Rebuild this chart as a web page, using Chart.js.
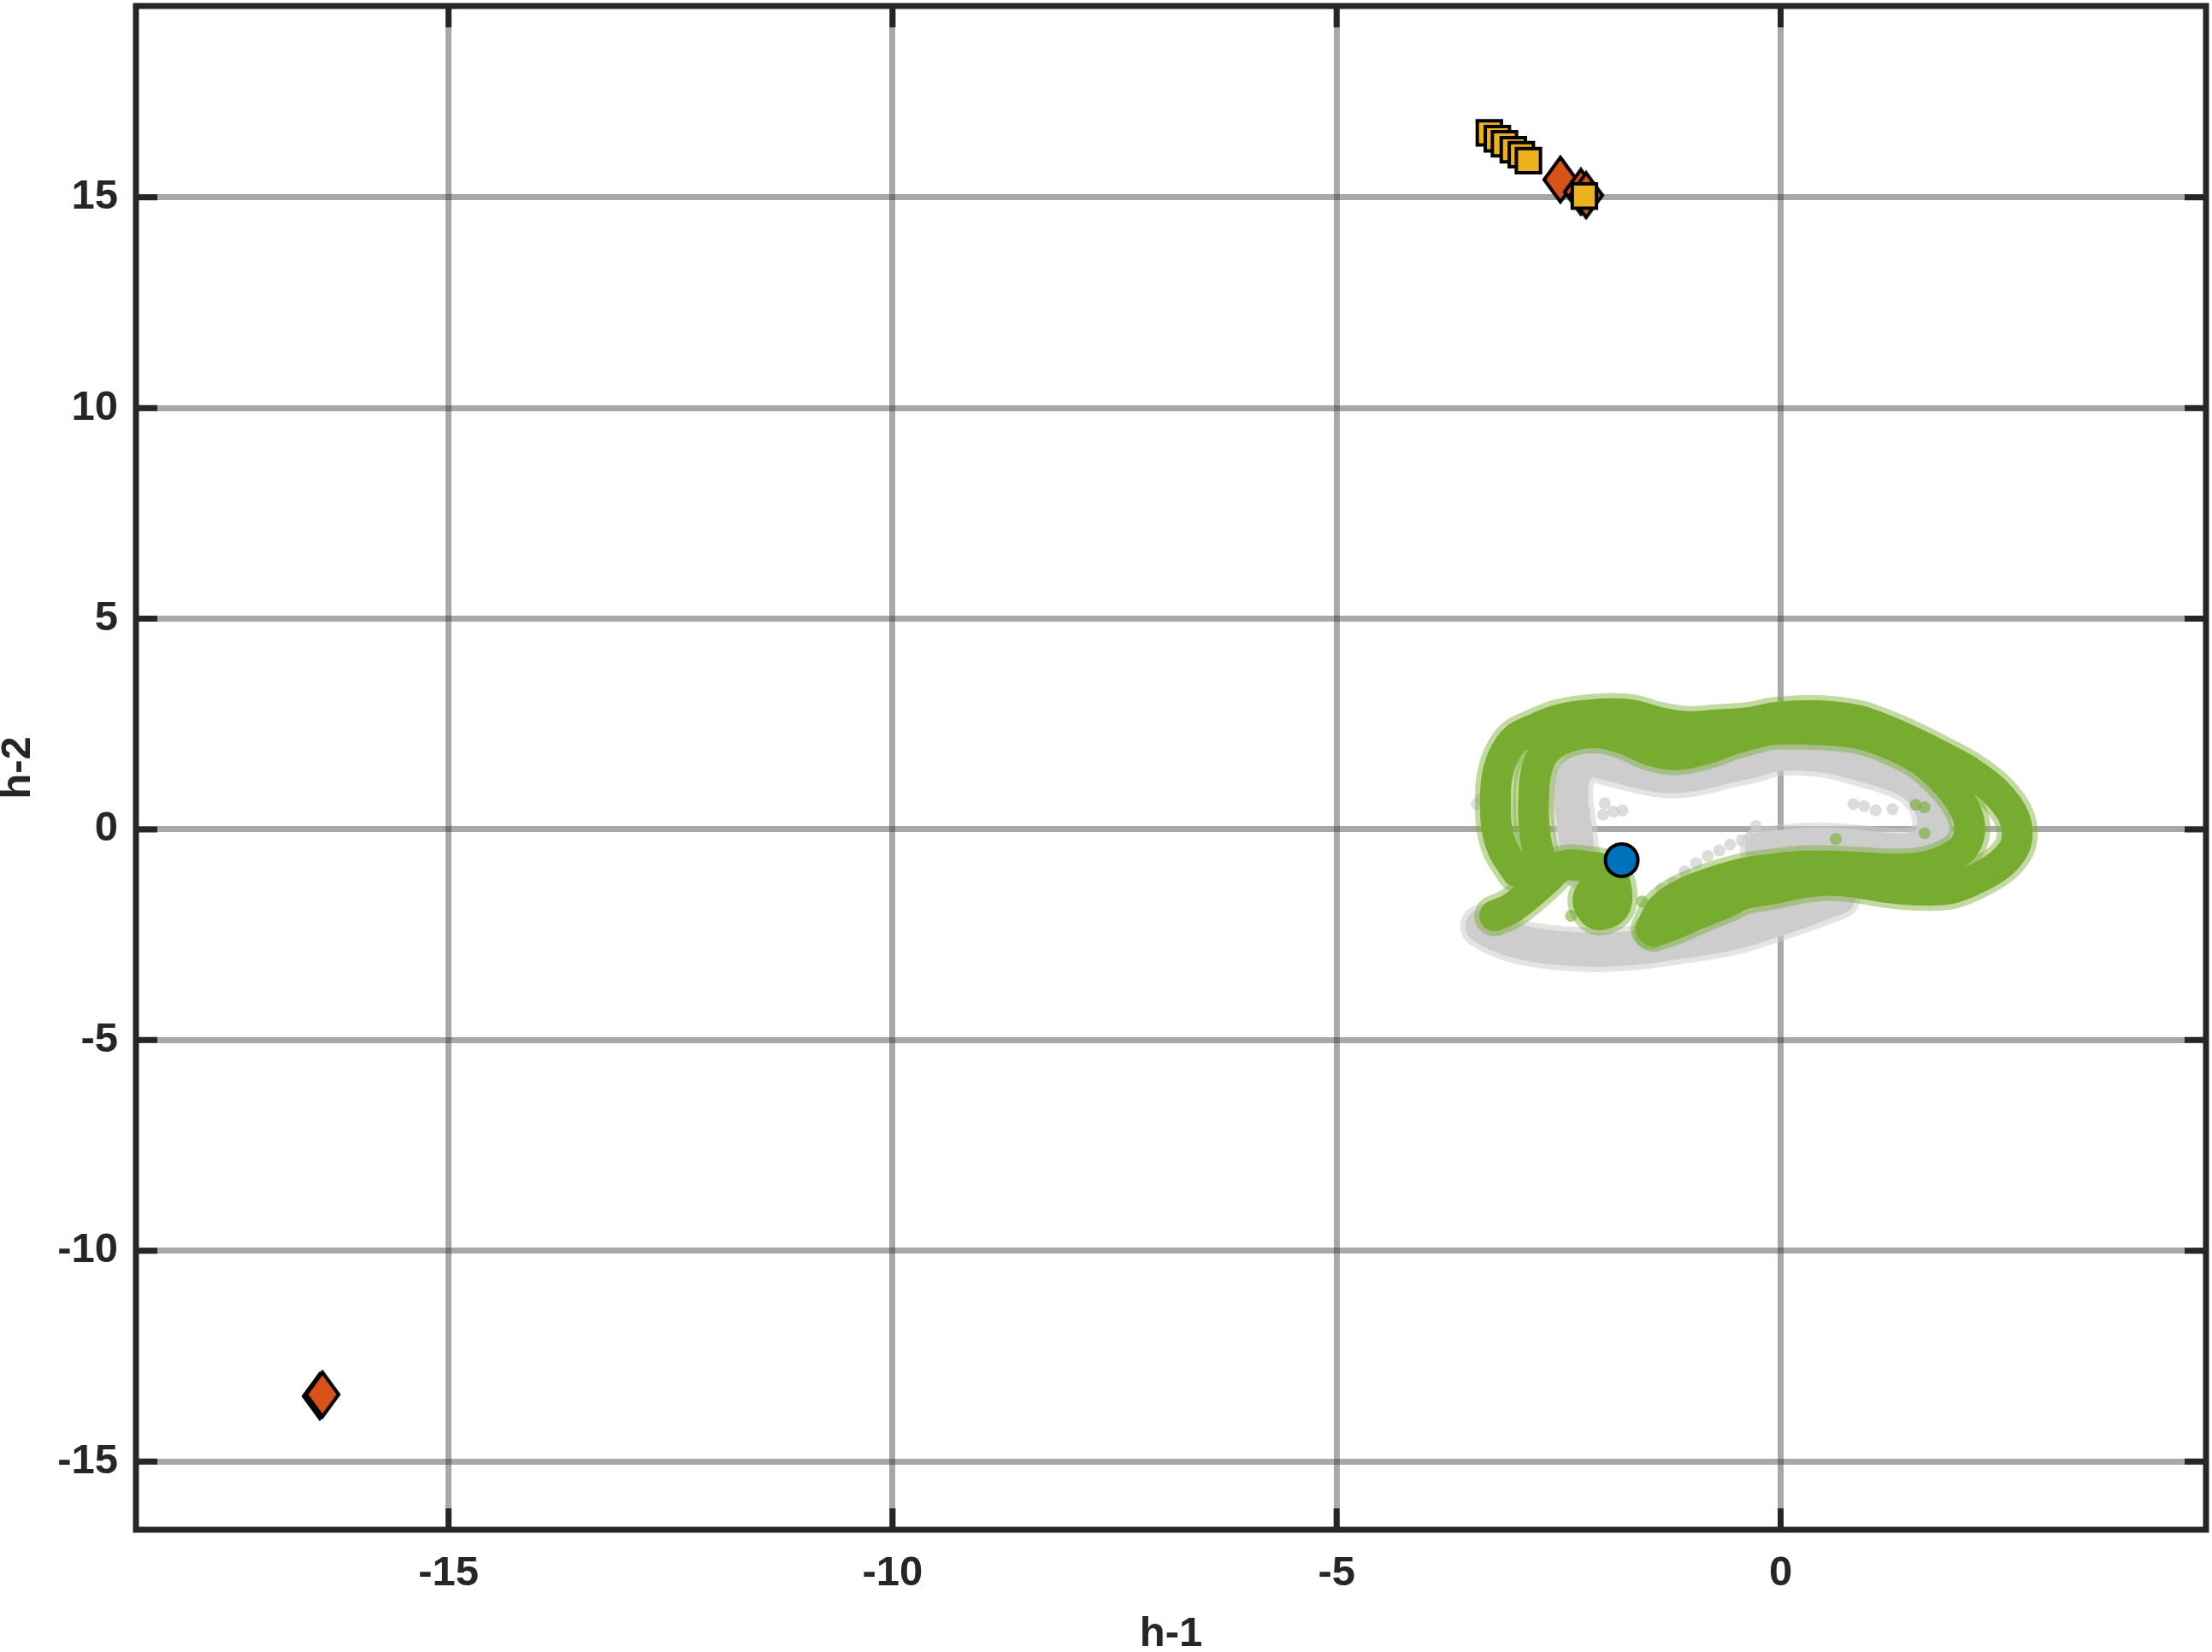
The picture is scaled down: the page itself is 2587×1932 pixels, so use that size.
<!DOCTYPE html>
<html>
<head>
<meta charset="utf-8">
<script src="https://cdn.jsdelivr.net/npm/chart.js@4.4.1/dist/chart.umd.min.js"></script>
<style>
html,body{margin:0;padding:0;background:#fff;}
canvas{display:block;}
</style>
</head>
<body>
<canvas id="grafico" width="2587" height="1932"></canvas>
<script>
/* DADOS */
const xTicks = [-15, -10, -5, 0];
const yTicks = [-15, -10, -5, 0, 5, 10, 15];
const xTitle = "h-1";
const yTitle = "h-2";

// nuvem verde (trajetória)
const greenOuter = [[-2.97,-1.00],[-3.13,-0.46],[-3.20,0.08],[-3.21,0.62],[-3.20,1.16],[-3.13,1.70],[-2.99,2.14],[-2.78,2.37],[-2.52,2.59],[-2.24,2.70],[-1.91,2.75],[-1.66,2.71],[-1.37,2.54],[-1.05,2.44],[-0.73,2.48],[-0.34,2.54],[-0.08,2.65],[0.24,2.70],[0.56,2.68],[0.88,2.58],[1.20,2.34],[1.52,2.04],[1.84,1.70],[2.13,1.36],[2.42,0.89],[2.63,0.28],[2.65,-0.33],[2.49,-0.80],[2.23,-1.14],[1.91,-1.41],[1.52,-1.44],[1.20,-1.38],[0.88,-1.27],[0.56,-1.21],[0.24,-1.27],[-0.08,-1.41],[-0.41,-1.54],[-0.63,-1.75],[-0.95,-2.02],[-1.24,-2.29],[-1.43,-2.42]];
const greenInner = [[-2.68,-0.87],[-2.75,-0.33],[-2.78,0.21],[-2.78,0.75],[-2.76,1.29],[-2.68,1.77],[-2.49,2.11],[-2.24,2.27],[-1.98,2.27],[-1.72,2.11],[-1.46,1.87],[-1.18,1.77],[-0.85,1.90],[-0.53,2.14],[-0.31,2.27],[-0.08,2.37],[0.40,2.37],[0.88,2.27],[1.26,2.00],[1.59,1.63],[1.84,1.16],[2.04,0.62],[2.13,0.08],[2.07,-0.40],[1.88,-0.70],[1.59,-0.90],[1.20,-0.94],[0.88,-0.90],[0.56,-0.87],[0.24,-0.87],[-0.08,-0.94],[-0.41,-1.04],[-0.79,-1.27],[-1.11,-1.54],[-1.34,-1.88],[-1.46,-2.36]];
const greenTail = [[-3.22,-2.05],[-3.04,-1.88],[-2.85,-1.58],[-2.65,-1.21],[-2.46,-0.87],[-2.20,-0.87],[-1.95,-1.00],[-1.85,-1.41],[-1.88,-1.88],[-2.07,-2.02],[-2.17,-1.68],[-2.07,-1.27]];
const greenDots = [[1.62,-0.09],[1.52,0.58],[1.62,0.52],[0.62,-0.23],[-0.28,2.04],[-1.56,-1.71],[-2.36,-2.05],[-3.30,-2.02],[-3.27,0.40]];

// nuvem cinza
const grayBottom = [[-3.36,-2.30],[-3.18,-2.50],[-2.96,-2.66],[-2.72,-2.76],[-2.40,-2.83],[-2.07,-2.86],[-1.75,-2.83],[-1.43,-2.76],[-1.11,-2.66],[-0.79,-2.56],[-0.47,-2.42],[-0.21,-2.25],[0.08,-2.05],[0.40,-1.81],[0.65,-1.61]];
const grayInner = [[-2.27,-0.87],[-2.30,-0.33],[-2.33,0.21],[-2.36,0.75],[-2.33,1.29],[-2.17,1.63],[-1.88,1.53],[-1.56,1.36],[-1.24,1.26],[-0.92,1.33],[-0.60,1.50],[-0.31,1.63],[-0.08,1.77],[0.24,1.80],[0.56,1.73],[0.88,1.56],[1.20,1.36],[1.49,1.09],[1.68,0.62],[1.73,0.08],[1.65,-0.33],[1.39,-0.50],[1.07,-0.46],[0.75,-0.40],[0.43,-0.36],[0.11,-0.40],[-0.21,-0.46]];
const grayDots = [[-1.34,-1.41],[-1.21,-1.27],[-1.08,-1.00],[-0.95,-0.80],[-0.82,-0.63],[-0.69,-0.50],[-0.57,-0.36],[-0.44,-0.26],[-0.28,0.08],[-0.34,-0.19],[-1.98,0.62],[-1.88,0.42],[-2.00,0.35],[-1.78,0.45],[0.94,0.55],[1.26,0.48],[1.07,0.45],[0.82,0.60],[-3.42,0.60],[-3.38,0.72]];

// marcadores
const startPt = [[-1.79,-0.73]];
const squarePts = [[-3.28,16.53],[-3.19,16.39],[-3.11,16.27],[-3.01,16.13],[-2.92,16.01],[-2.84,15.87],[-2.21,15.03]];
const diamondPts = [[-2.48,15.42],[-2.25,15.13],[-2.19,15.05],[-16.45,-13.45],[-16.42,-13.41]];

const pts = a => a.map(([x, y]) => ({x, y}));

/* ESTILO */
const fonte = '"Liberation Sans", Arial, Helvetica, sans-serif';
const escuro = '#262626';
const verde = 'rgb(119,172,48)';
const verdeHalo = 'rgba(119,172,48,0.45)';
const cinza = 'rgb(205,205,205)';
const cinzaHalo = 'rgba(205,205,205,0.55)';

function faixa(dados, cor, halo, largura, ordem){
  const base = {data: pts(dados), showLine: true, pointRadius: 0, pointHoverRadius: 0,
    tension: 0.35, borderCapStyle: 'round', borderJoinStyle: 'round'};
  return [
    Object.assign({}, base, {borderColor: halo, borderWidth: largura + 12, order: ordem + 1}),
    Object.assign({}, base, {borderColor: cor, borderWidth: largura, order: ordem})
  ];
}

// losango mais alto que largo (como o marcador 'd')
const losango = document.createElement('canvas');
losango.width = 44; losango.height = 58;
(function(){
  const c = losango.getContext('2d');
  c.beginPath();
  c.moveTo(22,3); c.lineTo(41,29); c.lineTo(22,55); c.lineTo(3,29); c.closePath();
  c.fillStyle = '#D95319'; c.fill();
  c.lineWidth = 4; c.lineJoin = 'miter'; c.strokeStyle = '#000'; c.stroke();
})();

/* MOLDURA E TICKS */
const moldura = {
  id: 'moldura',
  afterDatasetsDraw(chart){
    const {ctx, chartArea: a, scales: {x, y}} = chart;
    ctx.save();
    ctx.strokeStyle = escuro;
    ctx.lineWidth = 7;
    ctx.beginPath();
    xTicks.forEach(v => {
      const px = x.getPixelForValue(v);
      ctx.moveTo(px, a.bottom); ctx.lineTo(px, a.bottom - 25);
      ctx.moveTo(px, a.top); ctx.lineTo(px, a.top + 25);
    });
    yTicks.forEach(v => {
      const py = y.getPixelForValue(v);
      ctx.moveTo(a.left, py); ctx.lineTo(a.left + 25, py);
      ctx.moveTo(a.right, py); ctx.lineTo(a.right - 25, py);
    });
    ctx.stroke();
    ctx.strokeRect(a.left, a.top, a.right - a.left, a.bottom - a.top);
    ctx.restore();
  }
};

const gridCfg = {color: 'rgba(38,38,38,0.4)', lineWidth: 7, drawTicks: false};
const tickFont = {family: fonte, size: 49, weight: 'bold'};

new Chart(document.getElementById('grafico'), {
  type: 'scatter',
  data: {
    datasets: [
      ...faixa(grayBottom, cinza, cinzaHalo, 40, 20),
      ...faixa(grayInner, cinza, cinzaHalo, 40, 20),
      {data: pts(grayDots), pointRadius: 7, backgroundColor: 'rgba(205,205,205,0.7)', borderWidth: 0, order: 19},
      ...faixa(greenOuter, verde, verdeHalo, 36, 10),
      ...faixa(greenInner, verde, verdeHalo, 36, 10),
      ...faixa(greenTail, verde, verdeHalo, 36, 10),
      {data: pts(greenDots), pointRadius: 7, backgroundColor: 'rgba(119,172,48,0.6)', borderWidth: 0, order: 9},
      {data: pts(diamondPts), pointStyle: losango, order: 3},
      {data: pts(squarePts), pointStyle: 'rect', pointRadius: 20, backgroundColor: '#EDB120', borderColor: '#000', borderWidth: 4, order: 2},
      {data: pts(startPt), pointStyle: 'circle', pointRadius: 19, backgroundColor: '#0072BD', borderColor: '#000', borderWidth: 4, order: 1}
    ]
  },
  options: {
    responsive: false,
    animation: false,
    devicePixelRatio: 1,
    events: [],
    layout: {autoPadding: false, padding: {top: 7, right: 7, left: 0, bottom: 0}},
    plugins: {legend: {display: false}, tooltip: {enabled: false}},
    scales: {
      x: {
        type: 'linear', min: -18.52, max: 4.79,
        afterFit: s => { s.height = 143; s.paddingLeft = 0; s.paddingRight = 0; },
        afterBuildTicks: s => { s.ticks = xTicks.map(v => ({value: v})); },
        grid: gridCfg, border: {display: false},
        ticks: {font: tickFont, color: escuro, padding: 22, maxRotation: 0},
        title: {display: true, text: xTitle, font: Object.assign({lineHeight: 1}, tickFont), color: escuro, padding: {top: 0, bottom: -4}}
      },
      y: {
        type: 'linear', min: -16.62, max: 19.54,
        afterFit: s => { s.width = 159; s.paddingTop = 0; s.paddingBottom = 0; },
        afterBuildTicks: s => { s.ticks = yTicks.map(v => ({value: v})); },
        grid: gridCfg, border: {display: false},
        ticks: {font: tickFont, color: escuro, padding: 21},
        title: {display: true, text: yTitle, font: Object.assign({lineHeight: 1}, tickFont), color: escuro, padding: {top: -3, bottom: 0}}
      }
    }
  },
  plugins: [moldura]
});
</script>
</body>
</html>
